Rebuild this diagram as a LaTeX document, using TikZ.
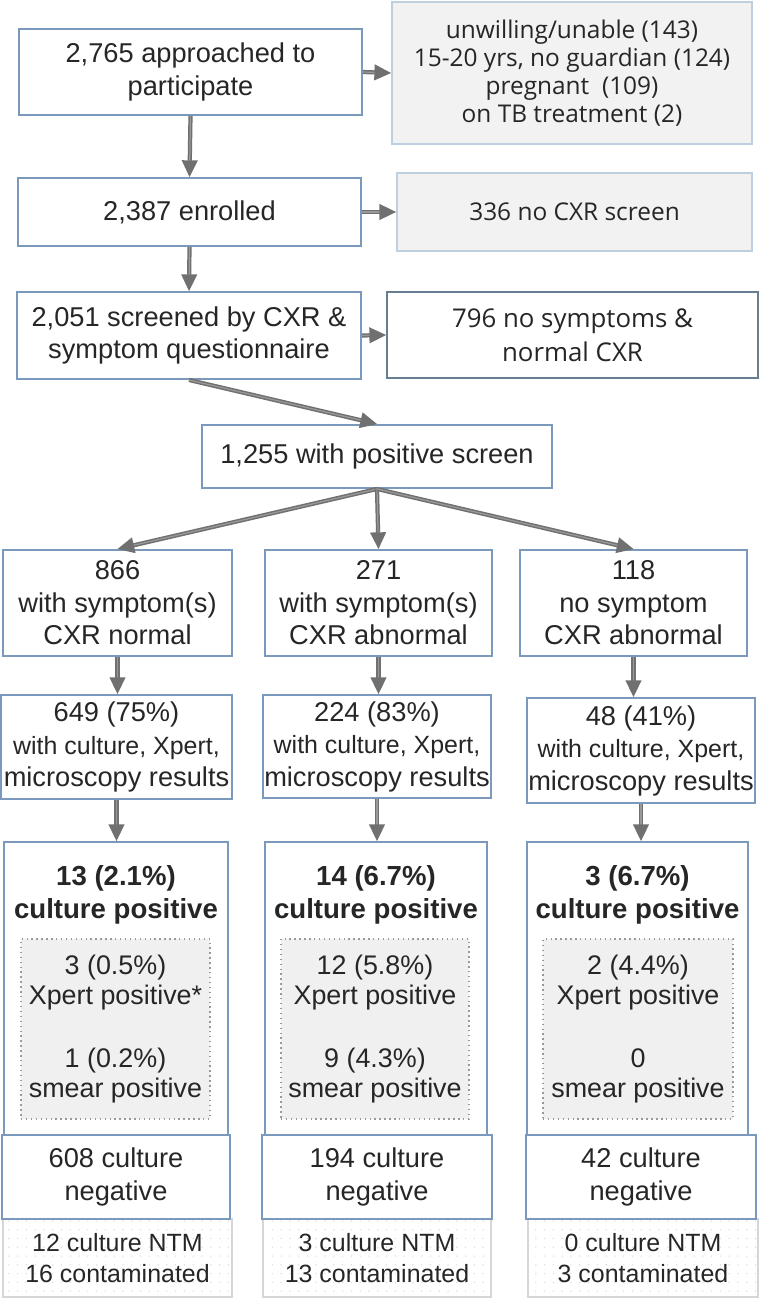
\documentclass[tikz,border=0pt]{standalone}
\usepackage{fontspec}
\setmainfont{Liberation Sans}
\newfontfamily\sidefont{Open Sans}
\usetikzlibrary{arrows.meta,patterns.meta}
\definecolor{boxblue}{RGB}{122,153,188}
\definecolor{paleblue}{RGB}{190,207,224}
\definecolor{slateline}{RGB}{105,125,145}
\definecolor{arrowgray}{RGB}{112,112,112}
\definecolor{textgray}{RGB}{38,38,38}
\begin{document}
\begin{tikzpicture}[x=0.02cm,y=-0.02cm,
    box/.style={draw=boxblue,line width=1.1pt,fill=white,text=textgray,align=center,
      inner sep=0pt,font=\fontsize{15.5}{18.5}\selectfont},
    sidebox/.style={draw=paleblue,line width=1.1pt,fill=black!5,text=textgray,align=center,
      inner sep=0pt,font=\sidefont\fontsize{13.9}{16}\selectfont},
    subbox/.style={draw=black!40,dotted,line width=0.8pt,fill=black!6,text=textgray,align=center,
      inner sep=0pt,font=\fontsize{15.3}{17}\selectfont},
    ntmbox/.style={draw=black!16,line width=1.1pt,pattern={Dots[radius=0.45pt,distance=5pt]},
      pattern color=black!13,text=textgray,align=center,inner sep=0pt,font=\fontsize{14.2}{18}\selectfont},
    cpbold/.style={text=textgray,align=center,font=\bfseries\fontsize{15.7}{19}\selectfont},
    flow/.style={draw=arrowgray,line width=0.85pt,double=black!40,double distance=0.7pt,
      -{Triangle[length=9.5pt,width=9pt]}}]
  \fill[white] (0,0) rectangle (759,1300);
  \useasboundingbox (0,0) rectangle (759,1300);

  \node[box,minimum width=6.86cm,minimum height=1.72cm] (appr) at (190.5,72) {2,765 approached to\\participate};
  \node[sidebox,minimum width=7.2cm,minimum height=2.84cm] (excl) at (572,73)
    {unwilling/unable (143)\\15-20 yrs, no guardian (124)\\pregnant~ (109)\\on TB treatment (2)};
  \node[box,minimum width=6.86cm,minimum height=1.36cm] (enr) at (189.5,212) {2,387 enrolled};
  \node[sidebox,minimum width=7.1cm,minimum height=1.56cm] (nocxr) at (574.5,212) {336 no CXR screen};
  \node[box,minimum width=6.88cm,minimum height=1.74cm] (scr) at (189,335.5) {2,051 screened by CXR \&\\symptom questionnaire};
  \node[box,draw=slateline,font=\sidefont\fontsize{14.7}{19.5}\selectfont,minimum width=7.42cm,minimum height=1.72cm]
    (normal) at (572.5,335) {796 no symptoms \&\\normal CXR};
  \node[box,minimum width=7cm,minimum height=1.26cm] (pos) at (377,456.5) {1,255 with positive screen};

  % screen groups
  \node[box,minimum width=4.58cm,minimum height=2.12cm] (sx1) at (117.5,603) {866\\with symptom(s)\\CXR normal};
  \node[box,minimum width=4.54cm,minimum height=2.12cm] (sx2) at (378.5,603) {271\\with symptom(s)\\CXR abnormal};
  \node[box,minimum width=4.54cm,minimum height=2.12cm] (sx3) at (633.5,603) {118\\no symptom\\CXR abnormal};

  \node[box,minimum width=4.62cm,minimum height=2.08cm] (res1) at (116.5,747)
    {649 (75\%)\\\fontsize{14.2}{17.5}\selectfont with culture, Xpert,\\microscopy results};
  \node[box,minimum width=4.56cm,minimum height=2.06cm] (res2) at (377,746.5)
    {224 (83\%)\\\fontsize{14.2}{17.5}\selectfont with culture, Xpert,\\microscopy results};
  \node[box,minimum width=4.56cm,minimum height=2.1cm] (res3) at (641,750.5)
    {48 (41\%)\\\fontsize{14.2}{17.5}\selectfont with culture, Xpert,\\microscopy results};

  % culture positive
  \node[box,minimum width=4.48cm,minimum height=5.86cm] (cp1) at (116,988.5) {};
  \node[box,minimum width=4.44cm,minimum height=5.86cm] (cp2) at (376,988.5) {};
  \node[box,minimum width=4.42cm,minimum height=5.86cm] (cp3) at (637.5,988.5) {};
  \node[cpbold] (cpt1) at (116,895) {13 (2.1\%)\\culture positive};
  \node[cpbold] (cpt2) at (376,895) {14 (6.7\%)\\culture positive};
  \node[cpbold] (cpt3) at (637.5,895) {3 (6.7\%)\\culture positive};
  \node[subbox,minimum width=3.78cm,minimum height=3.6cm] (xp1) at (115.5,1029)
    {3 (0.5\%)\\Xpert positive*\\[18.5pt]1 (0.2\%)\\smear positive};
  \node[subbox,minimum width=3.76cm,minimum height=3.6cm] (xp2) at (375,1029)
    {12 (5.8\%)\\Xpert positive\\[18.5pt]9 (4.3\%)\\smear positive};
  \node[subbox,minimum width=3.8cm,minimum height=3.6cm] (xp3) at (638,1029)
    {2 (4.4\%)\\Xpert positive\\[18.5pt]0\\smear positive};

  % culture negative
  \node[ntmbox,minimum width=4.58cm,minimum height=1.56cm] (ntm1) at (117.5,1258) {12 culture NTM\\16 contaminated};
  \node[ntmbox,minimum width=4.56cm,minimum height=1.56cm] (ntm2) at (377,1258) {3 culture NTM\\13 contaminated};
  \node[ntmbox,minimum width=4.6cm,minimum height=1.56cm] (ntm3) at (643,1258) {0 culture NTM\\3 contaminated};
  \node[box,minimum width=4.56cm,minimum height=1.68cm] (neg1) at (116,1177) {608 culture\\negative};
  \node[box,minimum width=4.6cm,minimum height=1.68cm] (neg2) at (377,1177) {194 culture\\negative};
  \node[box,minimum width=4.6cm,minimum height=1.68cm] (neg3) at (641,1177) {42 culture\\negative};

  \draw[flow] (appr.east) -- (excl.west);
  \draw[flow] (appr.south) -- (enr.north);
  \draw[flow] (enr.east) -- (nocxr.west);
  \draw[flow] (enr.south) -- (scr.north);
  \draw[flow] (scr.east) -- (normal.west);
  \draw[flow] (scr.south) -- (pos.north);
  \draw[flow] (pos.south) -- (sx1.north);
  \draw[flow] (pos.south) -- (sx2.north);
  \draw[flow] (pos.south) -- (sx3.north);
  \draw[flow] (sx1.south) -- (sx1.south |- res1.north);
  \draw[flow] (sx2.south) -- (sx2.south |- res2.north);
  \draw[flow] (sx3.south) -- (sx3.south |- res3.north);
  \draw[flow] (res1.south) -- (res1.south |- cp1.north);
  \draw[flow] (res2.south) -- (res2.south |- cp2.north);
  \draw[flow] (res3.south) -- (res3.south |- cp3.north);
\end{tikzpicture}
\end{document}
